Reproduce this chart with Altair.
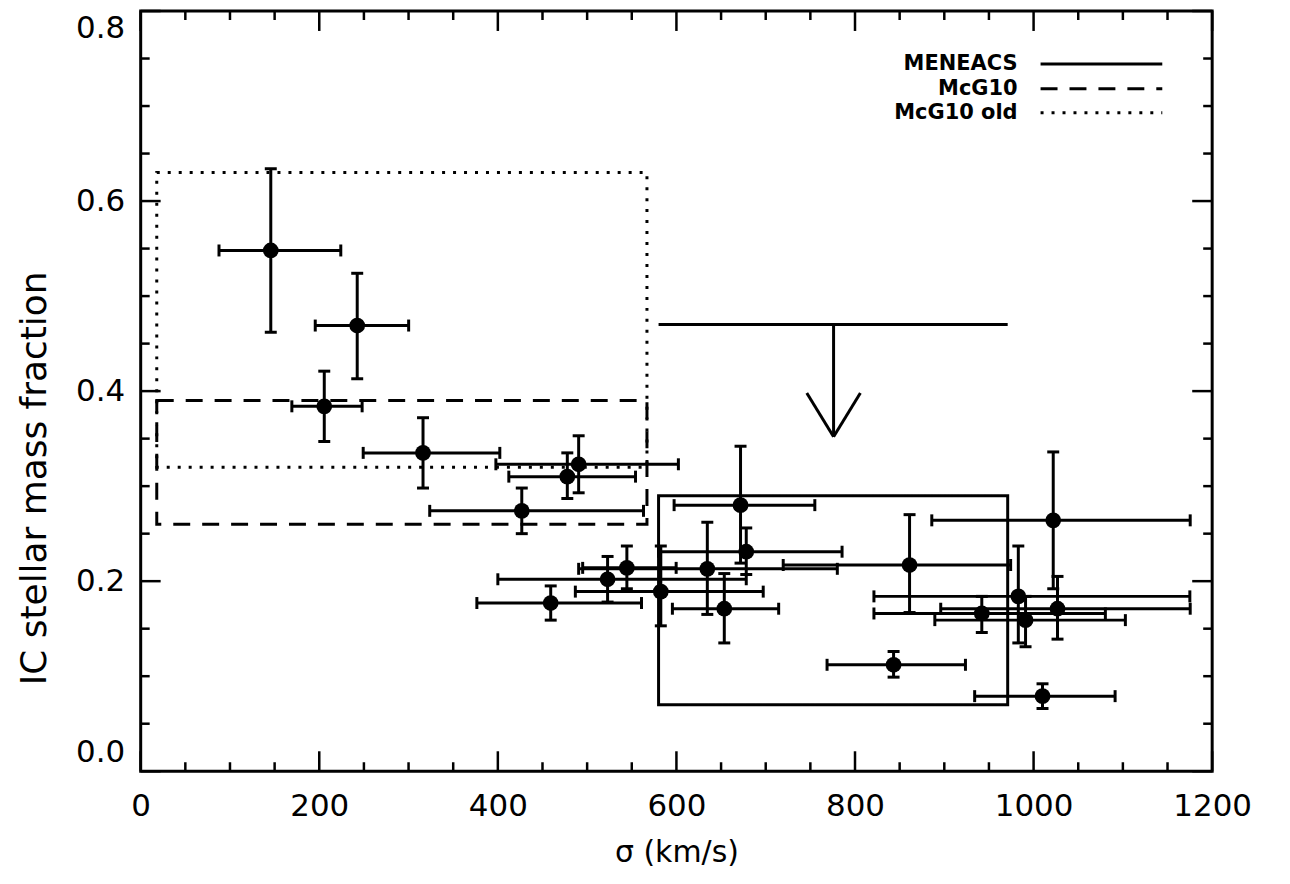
import altair as alt
import pandas as pd

# ---------------- data ----------------
sigma    = [145.7, 242.5, 205.6, 316.2, 490.5, 477.8, 426.8, 459.2, 522.9, 544.5, 582.5, 634.6,
            653.6, 671.8, 678.2, 861.1, 1022.0, 982.9, 1026.8, 942.0, 991.0, 843.2, 1010.0]
sigma_lo = [87.7, 195.5, 169.3, 249.2, 397.8, 412.3, 323.7, 376.5, 400.0, 495.0, 486.8, 490.5,
            595.5, 597.4, 579.9, 719.6, 886.0, 821.2, 896.0, 821.2, 889.4, 768.7, 934.0]
sigma_hi = [224.1, 300.1, 248.0, 402.2, 602.2, 554.2, 563.1, 560.9, 678.2, 599.7, 697.2, 780.2,
            714.5, 755.0, 785.5, 974.3, 1175.4, 1175.0, 1175.4, 1080.4, 1102.8, 923.7, 1091.3]
frac     = [0.548, 0.469, 0.384, 0.335, 0.323, 0.310, 0.274, 0.177, 0.202, 0.214, 0.189, 0.213,
            0.171, 0.280, 0.231, 0.217, 0.264, 0.184, 0.171, 0.166, 0.159, 0.112, 0.079]
frac_lo  = [0.462, 0.413, 0.347, 0.298, 0.293, 0.287, 0.250, 0.159, 0.178, 0.192, 0.153, 0.165,
            0.135, 0.219, 0.207, 0.167, 0.192, 0.135, 0.139, 0.146, 0.131, 0.099, 0.066]
frac_hi  = [0.634, 0.524, 0.421, 0.372, 0.353, 0.335, 0.298, 0.195, 0.226, 0.237, 0.237, 0.262,
            0.208, 0.342, 0.256, 0.270, 0.336, 0.237, 0.205, 0.184, 0.184, 0.126, 0.092]

box_names = ["MENEACS", "McG10", "McG10 old"]
box_x1 = [580, 18, 18]
box_x2 = [971, 567, 567]
box_y1 = [0.07, 0.26, 0.32]
box_y2 = [0.29, 0.39, 0.63]

# MENEACS upper-limit arrow
arrow_x1, arrow_x2 = 580, 971
arrow_sigma = 776
arrow_top = 0.47
arrow_tip = 0.352
arrow_head_y = 0.398
arrow_head_half = 30

x_major = [0, 200, 400, 600, 800, 1000, 1200]
x_minor = [50, 100, 150, 250, 300, 350, 450, 500, 550, 650, 700, 750,
           850, 900, 950, 1050, 1100, 1150]
y_major = [0.0, 0.2, 0.4, 0.6, 0.8]
y_minor = [0.05, 0.1, 0.15, 0.25, 0.3, 0.35, 0.45, 0.5, 0.55, 0.65, 0.7, 0.75]

# ---------------- tables ----------------
pts = pd.DataFrame(dict(sigma=sigma, sigma_lo=sigma_lo, sigma_hi=sigma_hi,
                        frac=frac, frac_lo=frac_lo, frac_hi=frac_hi))
boxes = pd.DataFrame(dict(name=box_names, x1=box_x1, x2=box_x2, y1=box_y1, y2=box_y2))
arrow = pd.DataFrame(dict(
    xa=[arrow_x1, arrow_sigma, arrow_sigma - arrow_head_half, arrow_sigma + arrow_head_half],
    xb=[arrow_x2, arrow_sigma, arrow_sigma, arrow_sigma],
    ya=[arrow_top, arrow_top, arrow_head_y, arrow_head_y],
    yb=[arrow_top, arrow_tip, arrow_tip, arrow_tip],
))
xmaj = pd.DataFrame(dict(t=x_major))
xmin = pd.DataFrame(dict(t=x_minor))
ymaj = pd.DataFrame(dict(t=y_major))
ymin = pd.DataFrame(dict(t=y_minor))

W, H = 1074, 762
FONT = "DejaVu Sans"
xs = alt.Scale(domain=[0, 1200], nice=False, zero=False)
ys = alt.Scale(domain=[0, 0.8], nice=False, zero=False)

XAX = alt.Axis(values=x_major, format="d", ticks=False, tickSize=0, domain=False, grid=False,
               labelPadding=20, labelFontSize=31, labelFont=FONT, labelColor="black",
               labelFlush=False, labelOverlap=False,
               title="σ (km/s)", titleFont=FONT, titleFontSize=30, titleFontWeight="normal",
               titleY=81, titleBaseline="middle", titleColor="black")
YAX = alt.Axis(values=y_major, format=".1f", ticks=False, tickSize=0, domain=False, grid=False,
               labelPadding=16, labelFontSize=31, labelFont=FONT, labelColor="black",
               labelFlush=True, labelFlushOffset=-3, labelOverlap=False,
               title="IC stellar mass fraction", titleFont=FONT, titleFontSize=36,
               titleFontWeight="normal", titleAngle=270, titleX=-106, titleY=468,
               titleBaseline="middle", titleAlign="center", titleColor="black")


def X(f):
    return alt.X(f"{f}:Q", scale=xs, axis=XAX)


def Y(f):
    return alt.Y(f"{f}:Q", scale=ys, axis=YAX)


points = alt.Chart(pts).mark_circle(size=250, color="black", opacity=1).encode(
    x=X("sigma"), y=Y("frac"))
vbar = alt.Chart(pts).mark_rule(color="black", strokeWidth=3).encode(
    x=X("sigma"), y=Y("frac_lo"), y2="frac_hi:Q")
hbar = alt.Chart(pts).mark_rule(color="black", strokeWidth=3).encode(
    x=X("sigma_lo"), x2="sigma_hi:Q", y=Y("frac"))


def hcap(field):
    return alt.Chart(pts).mark_tick(orient="horizontal", size=12, thickness=3,
                                    color="black", opacity=1).encode(
        x=X("sigma"), y=Y(field))


def vcap(field):
    return alt.Chart(pts).mark_tick(orient="vertical", size=12, thickness=3,
                                    color="black", opacity=1).encode(
        x=X(field), y=Y("frac"))


dashes = [[1, 0], [17, 12], [3, 8]]
rect_layers = []
for name, dash in zip(box_names, dashes):
    rect_layers.append(
        alt.Chart(boxes).transform_filter(alt.datum.name == name).mark_rect(
            filled=False, stroke="black", strokeWidth=3, strokeDash=dash).encode(
            x=X("x1"), x2="x2:Q", y=Y("y1"), y2="y2:Q"))

arrow_layer = alt.Chart(arrow).mark_rule(color="black", strokeWidth=3).encode(
    x=X("xa"), x2="xb:Q", y=Y("ya"), y2="yb:Q")


# inward ticks on all four sides
def xticks(df, length):
    bottom = alt.Chart(df).mark_rule(color="black", strokeWidth=2.5).encode(
        x=X("t"), y=alt.value(H), y2=alt.value(H - length))
    top = alt.Chart(df).mark_rule(color="black", strokeWidth=2.5).encode(
        x=X("t"), y=alt.value(0), y2=alt.value(length))
    return [bottom, top]


def yticks(df, length):
    left = alt.Chart(df).mark_rule(color="black", strokeWidth=2.5).encode(
        y=Y("t"), x=alt.value(0), x2=alt.value(length))
    right = alt.Chart(df).mark_rule(color="black", strokeWidth=2.5).encode(
        y=Y("t"), x=alt.value(W), x2=alt.value(W - length))
    return [left, right]


tick_layers = xticks(xmaj, 20) + xticks(xmin, 9) + yticks(ymaj, 20) + yticks(ymin, 9)

# legend (top right)
legend_layers = []
rows_y = [53, 78, 102]
for name, dash, ry in zip(box_names, dashes, rows_y):
    d = pd.DataFrame(dict(name=[name]))
    legend_layers.append(alt.Chart(d).mark_text(
        align="right", baseline="middle", font=FONT, fontSize=21, fontWeight="bold",
        color="black").encode(
        text="name:N", x=alt.value(879), y=alt.value(ry)))
    legend_layers.append(alt.Chart(d).mark_rule(
        color="black", strokeWidth=3, strokeDash=dash).encode(
        x=alt.value(902), x2=alt.value(1024), y=alt.value(ry)))

chart = alt.layer(
    *rect_layers, arrow_layer, vbar, hbar,
    hcap("frac_lo"), hcap("frac_hi"), vcap("sigma_lo"), vcap("sigma_hi"),
    points, *tick_layers, *legend_layers
).properties(
    width=W, height=H,
    padding={"left": 133, "top": 2, "right": 70, "bottom": 100},
    autosize=alt.AutoSizeParams(type="none"),
    background="white",
).configure_view(stroke="black", strokeWidth=3)

chart.save("out.html", embed_options={"renderer": "svg", "actions": False})
